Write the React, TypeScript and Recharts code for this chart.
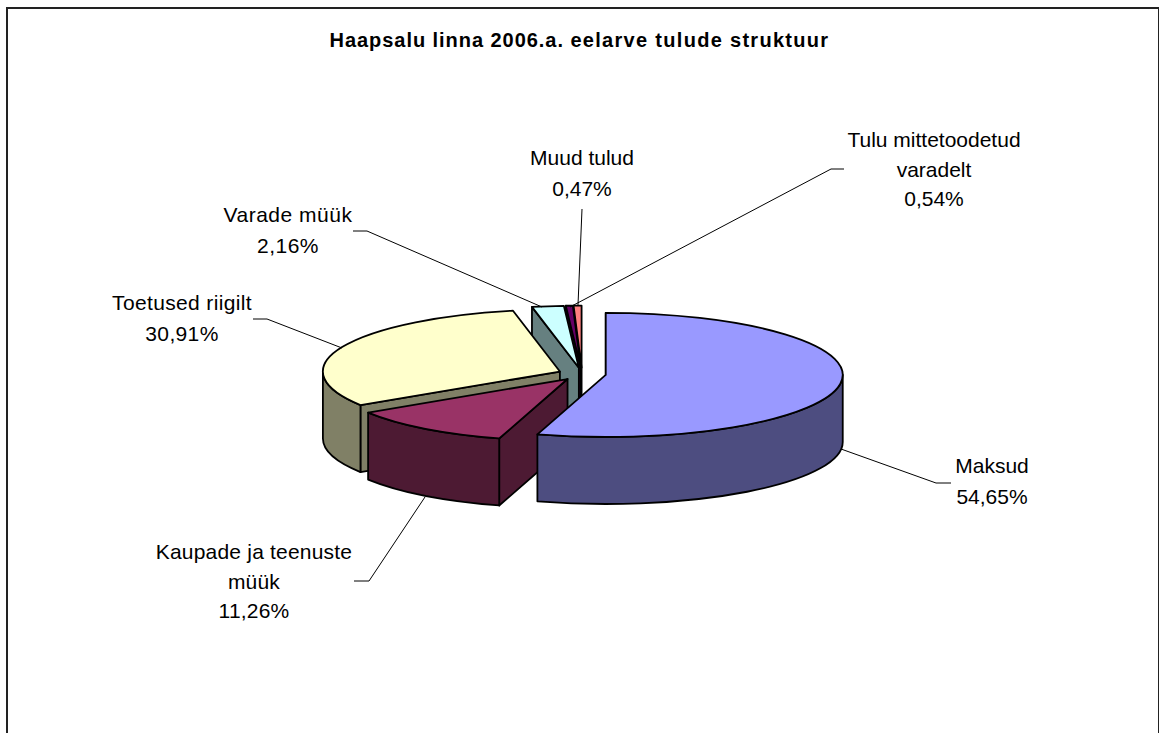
import React from 'react';
import { PieChart, Pie } from 'recharts';

// listed counter-clockwise from the top, so back slices are painted first
const sliceNames = ['Tulu mittetoodetud varadelt', 'Muud tulud', 'Varade müük', 'Toetused riigilt', 'Kaupade ja teenuste müük', 'Maksud'];
const sliceValues = [0.54, 0.47, 2.16, 30.91, 11.26, 54.65];
const sliceLabels = ['0,54%', '0,47%', '2,16%', '30,91%', '11,26%', '54,65%'];
const topColors = ['#FF8080', '#660066', '#CCFFFF', '#FFFFCC', '#993366', '#9999FF'];
const sideColors = ['#804040', '#330033', '#668080', '#808066', '#4D1A33', '#4D4D80'];

const data = sliceNames.map((name, i) => ({ name, value: sliceValues[i] }));

const WIDTH = 1159;
const HEIGHT = 733;
const TILT = 0.262;
const DEPTH = 67;
const EXPLODE = 24;
const FONT = '"Liberation Sans", Arial, sans-serif';

// text lines and leader lines sit by hand, as in the original sheet
const labelLayout = [
  { x: 934, y: 147, gap: 29.5, spacing: 0, lines: ['Tulu mittetoodetud', 'varadelt'], leader: '570,307 831,169 844,169' },
  { x: 582, y: 165, gap: 31, spacing: 0, lines: ['Muud tulud'], leader: '582,209 578,305' },
  { x: 288, y: 222, gap: 31, spacing: 0.5, lines: ['Varade müük'], leader: '353,231 367,231 542,307' },
  { x: 182, y: 310, gap: 31, spacing: 0.35, lines: ['Toetused riigilt'], leader: '253,319 267,319 342,348' },
  { x: 254, y: 559, gap: 29.5, spacing: 0.2, lines: ['Kaupade ja teenuste', 'müük'], leader: '354,581 369,581 425,497' },
  { x: 992, y: 473, gap: 30.5, spacing: 0, lines: ['Maksud'], leader: '841,449 936,483 951,483' },
];

const SliceShape = (props: any) => {
  const { cx, cy, outerRadius: r, startAngle, endAngle, index } = props;
  const rad = (a: number) => (a * Math.PI) / 180;
  const mid = rad((startAngle + endAngle) / 2);
  const ox = cx + EXPLODE * Math.cos(mid);
  const oy = cy - EXPLODE * Math.sin(mid) * TILT;
  const pt = (a: number, dy = 0) => [ox + r * Math.cos(rad(a)), oy - r * TILT * Math.sin(rad(a)) + dy];
  const arc = (a: number, b: number, dy: number, sweep: number) => {
    const [x, y] = pt(b, dy);
    return `A ${r} ${r * TILT} 0 ${Math.abs(b - a) > 180 ? 1 : 0} ${sweep} ${x} ${y}`;
  };
  const cutWall = (a: number) => {
    const [x, y] = pt(a);
    return `M ${ox} ${oy} L ${x} ${y} L ${x} ${y + DEPTH} L ${ox} ${oy + DEPTH} Z`;
  };

  const stroke = { stroke: '#000', strokeWidth: 1.8, strokeLinejoin: 'round' as const };
  const walls: string[] = [];
  if (Math.cos(rad(endAngle)) < -1e-6) walls.push(cutWall(endAngle));
  if (Math.cos(rad(startAngle)) > 1e-6) walls.push(cutWall(startAngle));

  const from = Math.max(startAngle, 180);
  const to = Math.min(endAngle, 360);
  if (to > from) {
    const [x1, y1] = pt(from);
    const [x2, y2] = pt(to, DEPTH);
    walls.push(`M ${x1} ${y1} ${arc(from, to, 0, 0)} L ${x2} ${y2} ${arc(to, from, DEPTH, 1)} Z`);
  }

  const [sx, sy] = pt(startAngle);
  const top = `M ${ox} ${oy} L ${sx} ${sy} ${arc(startAngle, endAngle, 0, 0)} Z`;

  return (
    <g>
      {walls.map((d, i) => (
        <path key={i} d={d} fill={sideColors[index]} {...stroke} />
      ))}
      <path d={top} fill={topColors[index]} {...stroke} />
    </g>
  );
};

const SliceLabel = (props: any) => {
  const { index } = props;
  const layout = labelLayout[index];
  const rows = [...layout.lines, sliceLabels[index]];
  return (
    <g>
      <polyline points={layout.leader} fill="none" stroke="#000" strokeWidth={1} />
      <text textAnchor="middle" fontFamily={FONT} fontSize={21} letterSpacing={layout.spacing} fill="#000">
        {rows.map((row, i) => (
          <tspan key={i} x={layout.x} y={layout.y + i * layout.gap}>
            {row}
          </tspan>
        ))}
      </text>
    </g>
  );
};

export default function App() {
  return (
    <div style={{ position: 'absolute', left: 0, top: 0, width: WIDTH, height: HEIGHT, overflow: 'hidden', background: '#fff' }}>
      <div
        style={{
          position: 'absolute',
          left: 6,
          top: 7,
          width: WIDTH - 6,
          height: HEIGHT,
          boxSizing: 'border-box',
          borderLeft: '2px solid #222',
          borderTop: '2px solid #222',
          borderRight: '1px solid #222',
        }}
      />
      <div
        style={{
          position: 'absolute',
          left: 0,
          top: 29,
          width: 1159,
          textAlign: 'center',
          fontFamily: FONT,
          fontWeight: 700,
          fontSize: 20,
          whiteSpace: 'nowrap',
          color: '#000',
        }}
      >
        <span style={{ letterSpacing: 0.95 }}>Haapsalu linna 2006.a. </span>
        <span style={{ letterSpacing: 1.3 }}>eelarve tulude struktuur</span>
      </div>
      <div style={{ position: 'absolute', left: 0, top: 0 }}>
        <PieChart width={WIDTH} height={HEIGHT} margin={{ top: 0, right: 0, bottom: 0, left: 0 }}>
          <Pie
            data={data}
            dataKey="value"
            nameKey="name"
            cx={582}
            cy={374}
            outerRadius={237}
            startAngle={90}
            endAngle={450}
            isAnimationActive={false}
            shape={SliceShape}
            label={SliceLabel}
            labelLine={false}
          />
        </PieChart>
      </div>
    </div>
  );
}
